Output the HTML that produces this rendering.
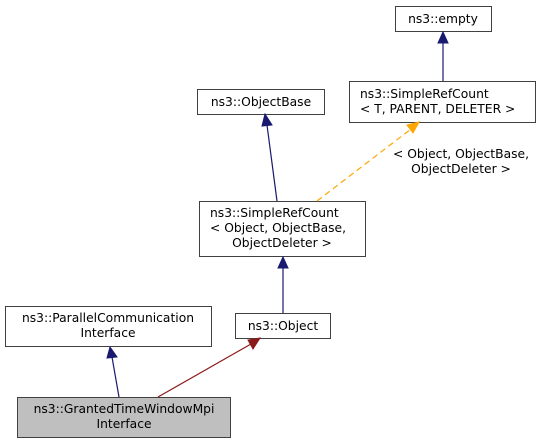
<!DOCTYPE html>
<html><head><meta charset="utf-8"><style>
html,body{margin:0;padding:0;background:#fff;}
svg{display:block;}
text{font-family:"DejaVu Sans","Liberation Sans",sans-serif;font-size:12.3px;fill:#000;}
</style></head><body>
<svg width="541" height="443" viewBox="0 0 541 443" xmlns="http://www.w3.org/2000/svg">
<g stroke="#404040" stroke-width="1" fill="#fff">
<rect x="395.5" y="6.5" width="96" height="25"/>
<rect x="349.5" y="81.5" width="186" height="41"/>
<rect x="197.5" y="89.5" width="127" height="25"/>
<rect x="199.5" y="201.5" width="166" height="55"/>
<rect x="5.5" y="306.5" width="206" height="40"/>
<rect x="235.5" y="313.5" width="95" height="25"/>
<rect x="17.5" y="397.5" width="213" height="40" fill="#bfbfbf"/>
</g>
<g>
<text x="443" y="23" text-anchor="middle">ns3::empty</text>
<text x="360" y="98">ns3::SimpleRefCount</text>
<text x="360" y="113">&lt; T, PARENT, DELETER &gt;</text>
<text x="261" y="106" text-anchor="middle">ns3::ObjectBase</text>
<text x="210" y="217">ns3::SimpleRefCount</text>
<text x="210" y="232">&lt; Object, ObjectBase,</text>
<text x="282" y="247" text-anchor="middle">ObjectDeleter &gt;</text>
<text x="461" y="158" text-anchor="middle">&lt; Object, ObjectBase,</text>
<text x="461" y="173" text-anchor="middle">ObjectDeleter &gt;</text>
<text x="108" y="322" text-anchor="middle">ns3::ParallelCommunication</text>
<text x="108" y="337" text-anchor="middle">Interface</text>
<text x="283" y="330" text-anchor="middle">ns3::Object</text>
<text x="124" y="413" text-anchor="middle">ns3::GrantedTimeWindowMpi</text>
<text x="124" y="428" text-anchor="middle">Interface</text>
</g>
<g stroke="#191970" stroke-width="1.2" fill="none">
<line x1="443" y1="81" x2="443" y2="42"/>
<line x1="277" y1="201" x2="267" y2="125"/>
<line x1="283" y1="313" x2="283" y2="267"/>
<line x1="119" y1="397" x2="112" y2="357"/>
</g>
<line x1="158" y1="397" x2="251" y2="344" stroke="#8b1a1a" stroke-width="1.2"/>
<line x1="317" y1="201" x2="411" y2="129" stroke="orange" stroke-width="1.2" stroke-dasharray="6,4"/>
<g fill="#191970" stroke="#191970">
<polygon points="443,32 438,43 448,43"/>
<polygon points="265,114 262,126 272,125"/>
<polygon points="283,257 278,268 288,268"/>
<polygon points="110,347 107,358 117,357"/>
</g>
<polygon points="260,338 248,340 253,349" fill="#8b1a1a" stroke="#8b1a1a"/>
<polygon points="419,122 407,125 413,133" fill="orange" stroke="orange"/>
</svg>
</body></html>
